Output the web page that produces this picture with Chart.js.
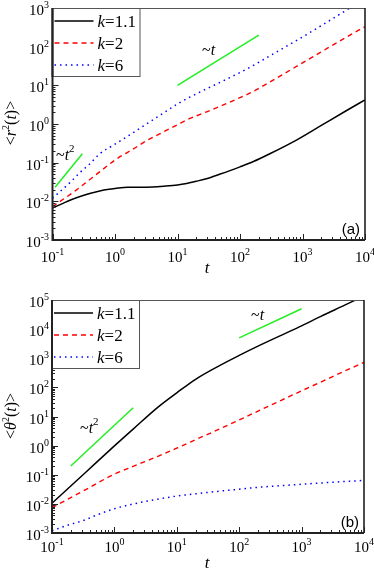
<!DOCTYPE html>
<html><head><meta charset="utf-8">
<script src="https://cdn.jsdelivr.net/npm/chart.js@4/dist/chart.umd.min.js"></script>
<style>
html,body{margin:0;padding:0;background:#fff;}
.wrap{position:relative;width:374px;height:285px;}
canvas{display:block;}
</style></head><body>
<div class="wrap"><canvas id="c1" width="374" height="285"></canvas></div>
<div class="wrap"><canvas id="c2" width="374" height="285"></canvas></div>
<script>
// ---------- DATA ----------
const kLabels = ['1.1', '2', '6'];
const xTicks = [0.1, 1, 10, 100, 1000, 10000];
const xTickExp = ['-1', '0', '1', '2', '3', '4'];
const yTicksA = [1e-3, 1e-2, 1e-1, 1, 10, 100, 1000];
const yTickExpA = ['-3', '-2', '-1', '0', '1', '2', '3'];
const yTicksB = [1e-3, 1e-2, 1e-1, 1, 10, 100, 1000, 1e4, 1e5];
const yTickExpB = ['-3', '-2', '-1', '0', '1', '2', '3', '4', '5'];

// panel (a): <r^2(t)>
const tA11 = [0.1, 0.15, 0.19, 0.3, 0.57, 0.8, 1, 1.6, 2.5, 4, 6, 10, 14, 20, 30, 47, 100, 164, 300, 813, 2000, 5000, 10000];
const rA11 = [0.0067, 0.009, 0.0107, 0.014, 0.0185, 0.0205, 0.0215, 0.0232, 0.0230, 0.0234, 0.0245, 0.0265, 0.029, 0.033, 0.039, 0.050, 0.078, 0.107, 0.17, 0.39, 0.92, 2.2, 4.2];
const tA2 = [0.1, 0.24, 0.32, 0.5, 1, 2, 3.2, 5, 10, 14, 30, 50, 100, 164, 300, 1000, 1900, 5000, 10000];
const rA2 = [0.0073, 0.0195, 0.028, 0.049, 0.117, 0.23, 0.37, 0.54, 0.96, 1.27, 2.1, 2.95, 4.8, 7.0, 12.2, 38, 70, 175, 330];
const tA6 = [0.1, 0.2, 0.27, 0.4, 0.57, 1, 2, 5, 10, 14, 20, 30, 50, 100, 164, 300, 1000, 2000, 5100, 6000];
const rA6 = [0.012, 0.033, 0.054, 0.095, 0.17, 0.30, 0.61, 1.6, 3.3, 4.5, 6.0, 8.3, 12.3, 21.5, 32.7, 58, 178, 350, 890, 1050];
const tAsq = [0.11, 0.3];
const rAsq = [0.023, 0.17];
const tAlin = [10, 200];
const rAlin = [10, 200];

// panel (b): <theta^2(t)>
const tB11 = [0.1, 0.2, 0.5, 1, 2, 5, 10, 20, 50, 100, 200, 500, 1000, 2000, 5000, 8000];
const vB11 = [0.0105, 0.041, 0.25, 0.98, 3.7, 21, 65, 190, 580, 1250, 2600, 6500, 13000, 27000, 68000, 110000];
const tB2 = [0.1, 0.2, 0.32, 0.5, 1, 2, 3.7, 5, 10, 14, 20, 44, 100, 200, 590, 1000, 2000, 5000, 10000];
const vB2 = [0.0074, 0.0165, 0.028, 0.048, 0.105, 0.195, 0.33, 0.43, 0.82, 1.13, 1.6, 3.4, 7.6, 15.3, 45, 76, 150, 370, 720];
const tB6 = [0.1, 0.2, 0.32, 0.5, 1, 2, 5, 10, 14, 30, 50, 100, 170, 300, 1000, 3000, 10000];
const vB6 = [0.0012, 0.0020, 0.0027, 0.0040, 0.0068, 0.0099, 0.0145, 0.0185, 0.0203, 0.0245, 0.0275, 0.0318, 0.036, 0.0395, 0.047, 0.055, 0.064];
const tBsq = [0.2, 2];
const vBsq = [0.2, 20];
const tBlin = [100, 1000];
const vBlin = [5000, 50000];

// ---------- HELPERS ----------
const SERIF = '"Liberation Serif", "Times New Roman", serif';
const SANS = '"Liberation Sans", Arial, sans-serif';
const pts = (xs, ys) => xs.map((x, i) => ({x: x, y: ys[i]}));
const STY = [
  {color: '#000000', width: 1.5, dash: []},
  {color: '#ff0000', width: 1.4, dash: [5, 4]},
  {color: '#0000ff', width: 1.5, dash: [1.5, 4]}
];
const GREEN = '#22ee22';

function ds(data, s) {
  return {data: data, borderColor: s.color, borderWidth: s.width, borderDash: s.dash,
    pointRadius: 0, fill: false, cubicInterpolationMode: 'monotone', clip: 0};
}
function gds(data) {
  return {data: data, borderColor: GREEN, borderWidth: 1.5, pointRadius: 0, fill: false, tension: 0, clip: 0};
}
function drawRich(ctx, parts, x, y, align) {
  let w = 0;
  parts.forEach(p => { ctx.font = p.f; p.w = ctx.measureText(p.t).width; w += p.w + (p.gap || 0); });
  let sx = align === 'center' ? x - w / 2 : (align === 'right' ? x - w : x);
  ctx.textAlign = 'left'; ctx.textBaseline = 'alphabetic';
  parts.forEach(p => { ctx.font = p.f; ctx.fillText(p.t, sx, y + (p.dy || 0)); sx += p.w + (p.gap || 0); });
}
const F = (s, it) => (it ? 'italic ' : '') + s + 'px ' + SERIF;

function makeDeco(cfg) {
  return {
    id: 'deco',
    afterDraw(chart) {
      const ctx = chart.ctx, a = chart.chartArea, xs = chart.scales.x, ys = chart.scales.y;
      ctx.save();
      ctx.fillStyle = '#000';
      // frame
      ctx.strokeStyle = '#555'; ctx.lineWidth = 1; ctx.setLineDash([]);
      ctx.beginPath(); ctx.moveTo(a.left, a.top + 0.5); ctx.lineTo(a.right, a.top + 0.5); ctx.stroke();
      ctx.strokeStyle = '#111'; ctx.lineWidth = 1.5;
      ctx.beginPath(); ctx.moveTo(a.right, a.top); ctx.lineTo(a.right, a.bottom); ctx.stroke();
      ctx.strokeStyle = '#222'; ctx.lineWidth = 2;
      ctx.beginPath(); ctx.moveTo(a.left, a.top); ctx.lineTo(a.left, a.bottom); ctx.lineTo(a.right, a.bottom); ctx.stroke();
      // ticks
      ctx.lineWidth = 1; ctx.strokeStyle = '#222';
      const xmin = xTicks[0], xmax = xTicks[xTicks.length - 1];
      for (let d = xmin; d <= xmax * 1.0001; d *= 10) {
        for (let m = 1; m <= 9; m++) {
          const v = d * m; if (v > xmax * 1.0001) break;
          const px = Math.round(xs.getPixelForValue(v)) + 0.5, L = m === 1 ? 6 : 3;
          ctx.beginPath(); ctx.moveTo(px, a.bottom); ctx.lineTo(px, a.bottom - L); ctx.stroke();
        }
      }
      const yt = cfg.yTicks, ymin = yt[0], ymax = yt[yt.length - 1];
      for (let d = ymin; d <= ymax * 1.0001; d *= 10) {
        for (let m = 1; m <= 9; m++) {
          const v = d * m; if (v > ymax * 1.0001) break;
          const py = Math.round(ys.getPixelForValue(v)) + 0.5, L = m === 1 ? 6 : 3;
          ctx.beginPath(); ctx.moveTo(a.left, py); ctx.lineTo(a.left + L, py); ctx.stroke();
        }
      }
      // tick labels
      xTicks.forEach((v, i) => {
        drawRich(ctx, [{t: '10', f: F(15)}, {t: xTickExp[i], f: F(10), dy: -7}],
          xs.getPixelForValue(v), cfg.xLabY, 'center');
      });
      yt.forEach((v, i) => {
        drawRich(ctx, [{t: '10', f: F(15)}, {t: cfg.yExp[i], f: F(10), dy: -7}],
          49, ys.getPixelForValue(v) + 7, 'right');
      });
      // x title
      drawRich(ctx, [{t: 't', f: F(17, true)}], 207, cfg.xTitleY, 'center');
      // y title
      ctx.save(); ctx.translate(16, cfg.yTitleY); ctx.rotate(-Math.PI / 2);
      drawRich(ctx, [{t: '<', f: F(16)}, {t: cfg.ySym, f: F(16, true)}, {t: '2', f: F(10), dy: -7},
        {t: '(', f: F(16)}, {t: 't', f: F(16, true)}, {t: ')>', f: F(16)}], 0, 0, 'center');
      ctx.restore();
      // annotations
      cfg.notes.forEach(n => {
        const parts = [{t: '~', f: F(16)}, {t: 't', f: F(16, true)}];
        if (n.sq) parts.push({t: '2', f: F(11), dy: -8, gap: 0});
        drawRich(ctx, parts, n.x, n.y, 'left');
      });
      drawRich(ctx, [{t: cfg.panel, f: '15px ' + SANS}], a.right - 5, a.bottom - 6, 'right');
      // legend
      const lx = a.left, ly = a.top, lw = 87, lh = 68;
      ctx.fillStyle = '#fff'; ctx.fillRect(lx, ly, lw, lh);
      ctx.strokeStyle = '#555'; ctx.lineWidth = 1; ctx.setLineDash([]);
      ctx.strokeRect(lx + 0.5, ly + 0.5, lw, lh);
      ctx.strokeStyle = '#222'; ctx.lineWidth = 2;
      ctx.beginPath(); ctx.moveTo(a.left, a.top); ctx.lineTo(a.left, a.top + lh + 1); ctx.stroke();
      ctx.fillStyle = '#000';
      kLabels.forEach((k, i) => {
        const ry = ly + 13 + i * 22, s = STY[i];
        ctx.strokeStyle = s.color; ctx.lineWidth = s.width; ctx.setLineDash(s.dash);
        ctx.beginPath(); ctx.moveTo(lx + 2, ry); ctx.lineTo(lx + 41, ry); ctx.stroke();
        ctx.setLineDash([]);
        drawRich(ctx, [{t: 'k', f: F(17, true)}, {t: '=' + k, f: F(17)}], lx + 45, ry + 6, 'left');
      });
      ctx.restore();
    }
  };
}

function makeChart(id, sets, yMin, yMax, pad, cfg) {
  return new Chart(document.getElementById(id), {
    type: 'line',
    data: {datasets: sets},
    options: {
      responsive: false, animation: false, devicePixelRatio: 1,
      layout: {padding: pad},
      plugins: {legend: {display: false}, tooltip: {enabled: false}},
      scales: {
        x: {type: 'logarithmic', min: xTicks[0], max: xTicks[xTicks.length - 1], display: false},
        y: {type: 'logarithmic', min: yMin, max: yMax, display: false}
      }
    },
    plugins: [makeDeco(cfg)]
  });
}

makeChart('c1', [
  gds(pts(tAsq, rAsq)), gds(pts(tAlin, rAlin)),
  ds(pts(tA6, rA6), STY[2]), ds(pts(tA2, rA2), STY[1]), ds(pts(tA11, rA11), STY[0])
], yTicksA[0], yTicksA[yTicksA.length - 1], {left: 52.5, right: 9, top: 8, bottom: 45},
{yTicks: yTicksA, yExp: yTickExpA, xLabY: 262, xTitleY: 273, yTitleY: 123, ySym: 'r', panel: '(a)',
 notes: [{x: 56, y: 160, sq: true}, {x: 202, y: 55, sq: false}]});

makeChart('c2', [
  gds(pts(tBsq, vBsq)), gds(pts(tBlin, vBlin)),
  ds(pts(tB6, vB6), STY[2]), ds(pts(tB2, vB2), STY[1]), ds(pts(tB11, vB11), STY[0])
], yTicksB[0], yTicksB[yTicksB.length - 1], {left: 52, right: 10, top: 15, bottom: 37},
{yTicks: yTicksB, yExp: yTickExpB, xLabY: 267, xTitleY: 283, yTitleY: 131, ySym: 'θ', panel: '(b)',
 notes: [{x: 80, y: 148, sq: true}, {x: 251, y: 35, sq: false}]});
</script>
</body></html>
